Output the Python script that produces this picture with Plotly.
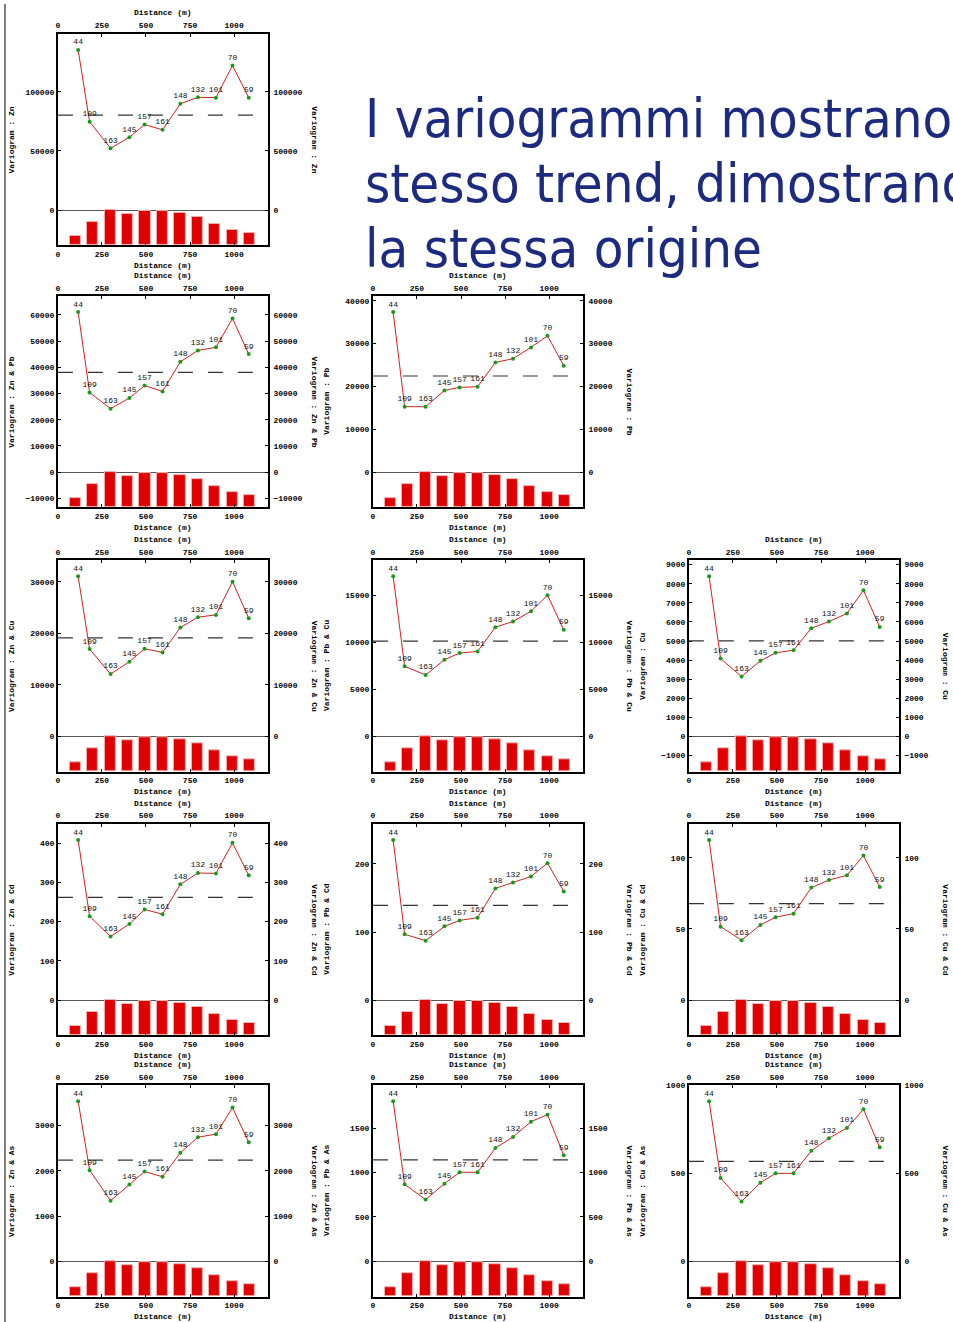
import plotly.graph_objects as go

# ---------------- data ----------------
lag_dist = [115, 180, 299, 406, 492, 594, 695, 795, 897, 991, 1083]
pair_counts = [44, 109, 163, 145, 157, 161, 148, 132, 101, 70, 59]
bar_centers = [98, 197, 296, 395, 494, 593, 692, 791, 890, 989, 1088]

gamma_zn = [135600, 74700, 52300, 61650, 72400, 67900, 90000, 95450, 95200, 122400, 95200]
gamma_zn_pb = [61000, 30400, 24200, 28300, 33000, 30800, 42100, 46400, 47600, 58600, 45000]
gamma_pb = [37360, 15300, 15300, 19100, 19800, 19960, 25630, 26490, 29130, 31840, 24850]
gamma_zn_cu = [31100, 16970, 12130, 14520, 17030, 16320, 21160, 23160, 23610, 30060, 22970]
gamma_pb_cu = [17010, 7450, 6530, 8150, 8860, 9030, 11610, 12210, 13300, 15000, 11330]
gamma_cu = [8390, 4080, 3140, 3960, 4380, 4520, 5670, 6020, 6440, 7660, 5740]
gamma_zn_cd = [408, 214, 162, 194, 231, 219, 295, 324, 323, 401, 318]
gamma_pb_cd = [235, 96.6, 87.3, 108.3, 117, 121, 164, 172.7, 181.5, 201, 159.5]
gamma_cu_cd = [112.4, 51.6, 42.1, 52.8, 58.2, 60.7, 79, 84.3, 87.6, 101.6, 79.4]
gamma_zn_as = [3537, 2015, 1338, 1699, 1985, 1868, 2397, 2743, 2809, 3397, 2632]
gamma_pb_as = [1805, 868, 696, 876, 1004, 1004, 1278, 1402, 1575, 1654, 1195]
gamma_cu_as = [910, 474, 340, 447, 500, 500, 628, 700, 758, 864, 649]

sills = {
    "Zn": 80400, "Zn & Pb": 38050, "Pb": 22450,
    "Zn & Cu": 19160, "Pb & Cu": 10130, "Cu": 5010,
    "Zn & Cd": 262, "Pb & Cd": 139, "Cu & Cd": 67.8,
    "Zn & As": 2235, "Pb & As": 1143, "Cu & As": 568,
}

title_lines = ["I variogrammi mostrano lo", "stesso trend, dimostrando", "la stessa origine"]
x_tick_vals = [0, 250, 500, 750, 1000]

# panel: (label, values, row, col, y tick step)
panels = [
    ("Zn", gamma_zn, 0, 0, 50000),
    ("Zn & Pb", gamma_zn_pb, 1, 0, 10000),
    ("Pb", gamma_pb, 1, 1, 10000),
    ("Zn & Cu", gamma_zn_cu, 2, 0, 10000),
    ("Pb & Cu", gamma_pb_cu, 2, 1, 5000),
    ("Cu", gamma_cu, 2, 2, 1000),
    ("Zn & Cd", gamma_zn_cd, 3, 0, 100),
    ("Pb & Cd", gamma_pb_cd, 3, 1, 100),
    ("Cu & Cd", gamma_cu_cd, 3, 2, 50),
    ("Zn & As", gamma_zn_as, 4, 0, 1000),
    ("Pb & As", gamma_pb_as, 4, 1, 500),
    ("Cu & As", gamma_cu_as, 4, 2, 500),
]

# ---------------- layout geometry (pixels) ----------------
W, H = 953, 1322
col_left = [56, 371.7, 688.3]
row_top = [30.0, 293.0, 558.0, 822.5, 1084.5]
BOX_W, BOX_H = 211, 212
X_RANGE = [0, 1195]

MONO = "Liberation Mono, Courier New, monospace"
tick_font = dict(family=MONO, size=8, color="black", weight="bold")
lab_font = dict(family=MONO, size=8, color="black", weight="bold")
pt_font = dict(family=MONO, size=8, color="#111")

fig = go.Figure()
annotations = []
shapes = []
layout_axes = {}


def px(x):
    return x / W


def py(y):
    return 1 - y / H


for i, (name, vals, r, c, dt) in enumerate(panels):
    n1, n2 = 2 * i + 1, 2 * i + 2
    xa = "x" if n1 == 1 else f"x{n1}"
    ya = "y" if n1 == 1 else f"y{n1}"
    xb, yb = f"x{n2}", f"y{n2}"
    xk1 = "xaxis" if n1 == 1 else f"xaxis{n1}"
    yk1 = "yaxis" if n1 == 1 else f"yaxis{n1}"
    xk2, yk2 = f"xaxis{n2}", f"yaxis{n2}"

    x0 = col_left[c]
    y0 = row_top[r]
    xdom = [px(x0), px(x0 + BOX_W)]
    ydom = [py(y0 + BOX_H), py(y0)]

    ymax = 1.1 * max(vals)
    ymin = -0.2 * ymax
    yr = [ymin, ymax]

    # bars: pair counts drawn in negative band
    cmax = max(pair_counts)
    fig.add_trace(go.Bar(
        x=bar_centers, y=[cnt / cmax * (-ymin) for cnt in pair_counts], base=ymin,
        width=64, marker=dict(color="#E00000", line=dict(color="#F4B4B4", width=1)),
        xaxis=xa, yaxis=ya, showlegend=False, hoverinfo="skip"))

    # variogram line
    fig.add_trace(go.Scatter(
        x=lag_dist, y=vals, mode="lines+markers+text",
        text=[str(v) for v in pair_counts], textposition="top center",
        textfont=pt_font,
        line=dict(color="#D42020", width=1),
        marker=dict(color="#1A9A1A", size=4, symbol="circle"),
        xaxis=xa, yaxis=ya, showlegend=False, cliponaxis=False))

    # invisible trace so the mirrored (top / right) label axes are drawn
    fig.add_trace(go.Scatter(
        x=lag_dist, y=vals, mode="markers", marker=dict(opacity=0),
        xaxis=xb, yaxis=yb, showlegend=False, hoverinfo="skip"))

    # sill
    shapes.append(dict(type="line", xref=f"{xa} domain", yref=ya, x0=0, x1=1,
                       y0=sills[name], y1=sills[name],
                       line=dict(color="#333", width=1.2, dash="longdash")))

    common_x = dict(range=X_RANGE, tickvals=x_tick_vals, showgrid=False,
                    zeroline=False, tickfont=tick_font)
    layout_axes[xk1] = dict(domain=xdom, anchor=ya, side="bottom",
                            showline=True, linewidth=2, linecolor="black",
                            mirror="ticks", ticks="inside", ticklen=3,
                            tickcolor="black", **common_x)
    layout_axes[xk2] = dict(domain=xdom, anchor=yb, side="top", overlaying=xa,
                            showline=False, ticks="", ticklabelstandoff=3,
                            **common_x)
    common_y = dict(range=yr, dtick=dt, tick0=0, tickformat="d", showgrid=False,
                    tickfont=tick_font)
    layout_axes[yk1] = dict(domain=ydom, anchor=xa, side="left",
                            showline=True, linewidth=2, linecolor="black",
                            mirror="ticks", ticks="inside", ticklen=3,
                            tickcolor="black", zeroline=True,
                            zerolinecolor="#555", zerolinewidth=1, **common_y)
    layout_axes[yk2] = dict(domain=ydom, anchor=xb, side="right", overlaying=ya,
                            showline=False, ticks="", zeroline=False,
                            ticklabelstandoff=4, **common_y)

    # axis titles
    cx = x0 + BOX_W / 2
    cy = y0 + BOX_H / 2
    lbl = f"Variogram : {name}"
    annotations += [
        dict(x=px(cx), y=py(y0 - 21), text="Distance (m)"),
        dict(x=px(cx), y=py(y0 + BOX_H + 20), text="Distance (m)"),
        dict(x=px(x0 - 46), y=py(cy), text=lbl, textangle=-90),
        dict(x=px(x0 + BOX_W + 46), y=py(cy), text=lbl, textangle=90),
    ]

annotations = [dict(a, xref="paper", yref="paper", showarrow=False,
                    font=lab_font, xanchor="center", yanchor="middle")
               for a in annotations]

# big title
for k, line in enumerate(title_lines):
    annotations.append(dict(
        x=px(362), y=py(115 + 65 * k), xref="paper", yref="paper",
        text=line, showarrow=False, xanchor="left", yanchor="middle",
        font=dict(family="DejaVu Sans Condensed, DejaVu Sans", size=54,
                  color="#1C2B80")))

# left slide border
shapes.append(dict(type="line", xref="paper", yref="paper", x0=px(3), x1=px(3),
                   y0=0, y1=1, line=dict(color="black", width=1)))

fig.update_layout(
    width=W, height=H, margin=dict(l=0, r=0, t=0, b=0),
    paper_bgcolor="white", plot_bgcolor="white",
    annotations=annotations, shapes=shapes, bargap=0,
    **layout_axes)

fig.write_html("out.html",
               config={"displayModeBar": False},
               post_script="document.body.style.margin='0';"
                           "document.body.style.overflow='hidden';")
